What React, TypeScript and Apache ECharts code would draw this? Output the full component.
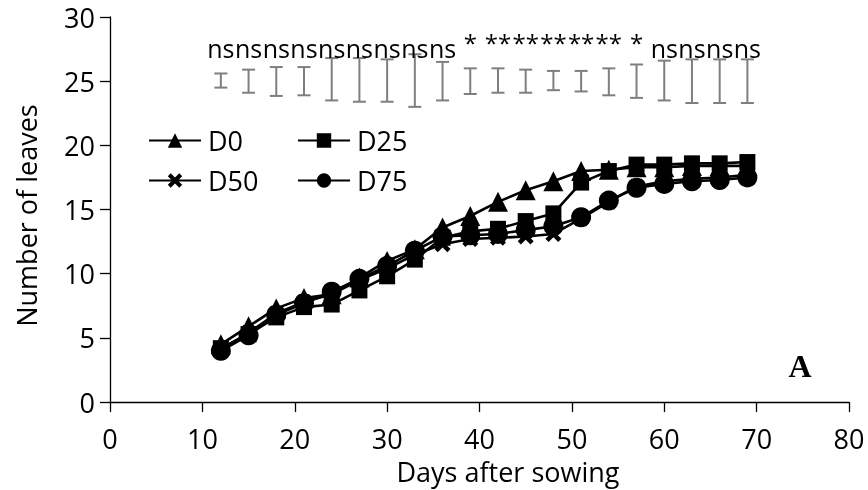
import React, { useEffect, useRef } from "react";
import * as echarts from "echarts";

const DAYS = [12, 15, 18, 21, 24, 27, 30, 33, 36, 39, 42, 45, 48, 51, 54, 57, 60, 63, 66, 69];
const D0 = [4.5, 5.9, 7.3, 8.1, 8.4, 9.7, 11.0, 11.9, 13.6, 14.5, 15.6, 16.5, 17.2, 18.0, 18.1, 18.3, 18.3, 18.4, 18.4, 18.4];
const D25 = [4.2, 5.3, 6.6, 7.4, 7.6, 8.7, 9.8, 11.1, 12.8, 13.3, 13.5, 14.1, 14.7, 17.1, 18.0, 18.5, 18.5, 18.6, 18.6, 18.7];
const D50 = [4.1, 5.4, 6.9, 7.8, 8.4, 9.5, 10.4, 11.5, 12.3, 12.7, 12.8, 12.9, 13.1, 14.3, 15.6, 16.8, 17.2, 17.4, 17.5, 17.7];
const D75 = [4.0, 5.2, 6.8, 7.7, 8.6, 9.6, 10.6, 11.8, 12.9, 13.0, 13.1, 13.4, 13.7, 14.4, 15.7, 16.7, 17.0, 17.2, 17.3, 17.5];
const ERR_LOW = [24.5, 24.1, 23.85, 23.9, 23.5, 23.4, 23.4, 23.0, 23.5, 24.0, 24.1, 24.1, 24.3, 24.2, 23.9, 23.7, 23.5, 23.3, 23.3, 23.3];
const ERR_HIGH = [25.6, 25.9, 26.1, 26.1, 26.8, 26.8, 26.7, 27.1, 26.5, 26.0, 26.0, 25.9, 25.8, 25.8, 26.0, 26.3, 26.6, 26.7, 26.7, 26.7];
const SIG_LABELS = ["ns", "ns", "ns", "ns", "ns", "ns", "ns", "ns", "ns", "*", "**", "**", "**", "**", "**", "*", "ns", "ns", "ns", "ns"];
const SERIES_NAMES = ["D0", "D25", "D50", "D75"];

const NS_Y = 27.6;
const STAR_Y = 28.0;
const FONT = "Open Sans";

export default function App() {
  const ref = useRef<HTMLDivElement>(null);
  useEffect(() => {
    const chart = echarts.init(ref.current!, null, { renderer: "svg" });
    const pair = (ys: number[]) => DAYS.map((d, i) => [d, ys[i]]);
    const crossPath = "path://M2,0L5,3L8,0L10,2L7,5L10,8L8,10L5,7L2,10L0,8L3,5L0,2Z";
    const mkLine = (name: string, ys: number[], symbol: string, size: number) => ({
      type: "line",
      name,
      data: pair(ys),
      symbol,
      symbolSize: size,
      showSymbol: true,
      itemStyle: { color: "#000" },
      lineStyle: { color: "#000", width: 2.6 },
      z: 3,
    });
    const legendBase = {
      itemWidth: 52,
      itemHeight: 18,
      padding: 0,
      textStyle: { fontSize: 27, color: "#000", fontFamily: FONT, padding: [0, 0, 0, 2] },
    };
    chart.setOption({
      animation: false,
      textStyle: { fontFamily: FONT },
      grid: { left: 110, top: 17, width: 739, height: 389 },
      legend: [
        { ...legendBase, data: [SERIES_NAMES[0]], left: 148, top: 127 },
        { ...legendBase, data: [SERIES_NAMES[1]], left: 297, top: 127 },
        { ...legendBase, data: [SERIES_NAMES[2]], left: 148, top: 167 },
        { ...legendBase, data: [SERIES_NAMES[3]], left: 297, top: 167 },
      ],
      xAxis: {
        type: "value",
        min: 0,
        max: 80,
        interval: 10,
        name: "Days after sowing",
        nameLocation: "middle",
        nameGap: 52,
        nameTextStyle: { fontSize: 27, color: "#000", fontFamily: FONT, padding: [0, 0, 0, 57], lineHeight: 28 },
        axisLine: { show: true, onZero: false, lineStyle: { color: "#000", width: 1.3 } },
        axisTick: { show: true, inside: false, length: 10, lineStyle: { color: "#000", width: 1.3 } },
        axisLabel: { fontSize: 27, color: "#000", margin: 22, fontFamily: FONT, lineHeight: 28 },
        splitLine: { show: false },
      },
      yAxis: {
        type: "value",
        min: 0,
        max: 30,
        interval: 5,
        name: "Number of leaves",
        nameLocation: "middle",
        nameGap: 70,
        nameTextStyle: { fontSize: 27, color: "#000", fontFamily: FONT, padding: [0, 12, 0, 0] },
        axisLine: { show: true, onZero: false, lineStyle: { color: "#000", width: 1.3 } },
        axisTick: { show: true, inside: false, length: 10, lineStyle: { color: "#000", width: 1.3 } },
        axisLabel: { fontSize: 27, color: "#000", margin: 15, fontFamily: FONT },
        splitLine: { show: false },
      },
      graphic: [
        {
          type: "text",
          x: 800,
          y: 366,
          style: {
            text: "A",
            fontSize: 32,
            fontWeight: "bold",
            fontFamily: "Liberation Serif",
            fill: "#000",
            align: "center",
            verticalAlign: "middle",
          },
        },
      ],
      series: [
        {
          type: "custom",
          name: "err",
          data: DAYS.map((d, i) => [d, ERR_LOW[i], ERR_HIGH[i]]),
          z: 2,
          renderItem: (params: any, api: any) => {
            const x = api.value(0);
            const lo = api.coord([x, api.value(1)]);
            const hi = api.coord([x, api.value(2)]);
            const w = 6.5;
            const st = { stroke: "#7f7f7f", lineWidth: 2 };
            return {
              type: "group",
              children: [
                { type: "line", shape: { x1: lo[0], y1: lo[1], x2: hi[0], y2: hi[1] }, style: st },
                { type: "line", shape: { x1: lo[0] - w, y1: lo[1], x2: lo[0] + w, y2: lo[1] }, style: st },
                { type: "line", shape: { x1: hi[0] - w, y1: hi[1], x2: hi[0] + w, y2: hi[1] }, style: st },
              ],
            };
          },
        },
        mkLine(SERIES_NAMES[0], D0, "triangle", 20),
        mkLine(SERIES_NAMES[1], D25, "rect", 16),
        mkLine(SERIES_NAMES[2], D50, crossPath, 16),
        mkLine(SERIES_NAMES[3], D75, "circle", 20),
        {
          type: "custom",
          name: "sig",
          data: DAYS.map((d, i) => [d, i]),
          z: 4,
          renderItem: (params: any, api: any) => {
            const i = api.value(1);
            const label = SIG_LABELS[i];
            const isStar = label.charAt(0) === "*";
            const p = api.coord([api.value(0), isStar ? STAR_Y : NS_Y]);
            return {
              type: "text",
              x: p[0],
              y: p[1],
              style: {
                text: label,
                fontSize: isStar ? 24 : 25,
                fontFamily: FONT,
                fill: "#000",
                align: "center",
                verticalAlign: "middle",
              },
            };
          },
        },
      ],
    });
    return () => chart.dispose();
  }, []);
  return <div ref={ref} style={{ position: "fixed", left: 0, top: 0, width: 868, height: 490 }} />;
}
